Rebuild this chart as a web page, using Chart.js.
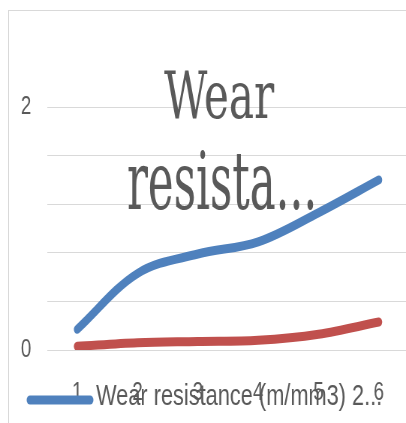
<!DOCTYPE html>
<html>
<head>
<meta charset="utf-8">
<script src="https://cdn.jsdelivr.net/npm/chart.js@4.4.1/dist/chart.umd.min.js"></script>
<style>
  html, body { margin: 0; padding: 0; background: #fff; overflow: hidden; width: 406px; height: 423px; }
  #frame { position: absolute; left: 8px; top: 10px; width: 470px; height: 470px; border: 1px solid #d9d9d9; }
  #chart { display: block; }
</style>
</head>
<body>
<div id="frame"><canvas id="chart" width="541" height="419" style="width:406px;height:419px"></canvas></div>
<script>
// Categories along the x axis
const categories = ['1', '2', '3', '4', '5', '6'];
// Wear resistance series (m/mm3)
const wearResistanceA = [0.17, 0.63, 0.79, 0.89, 1.13, 1.40];
const wearResistanceB = [0.03, 0.06, 0.07, 0.08, 0.13, 0.23];
// Series names
const seriesLabels = ['Wear resistance (m/mm3) 2...', 'Series 2'];
// Only these y values carry a label; the other grid lines stay unlabeled
const yTickLabels = [0, 2];
// Two-line (truncated) chart title
const titleLines = ['Wear', 'resista...'];

const TEXT_GRAY = '#595959';

// Title overlaid on the plot, each line with its own size and horizontal squeeze
const titleLayout = [
  { size: 66, x: 280, y: 107, sx: 0.85 },
  { size: 80, x: 284, y: 198, sx: 0.725 }
];
const overlayTitle = {
  id: 'overlayTitle',
  beforeDatasetsDraw(chart) {
    const ctx = chart.ctx;
    titleLines.forEach((line, i) => {
      const l = titleLayout[i];
      ctx.save();
      ctx.translate(l.x, l.y);
      ctx.scale(l.sx, 1);
      ctx.font = l.size + 'px "DejaVu Serif"';
      ctx.fillStyle = TEXT_GRAY;
      ctx.textAlign = 'center';
      ctx.textBaseline = 'alphabetic';
      ctx.fillText(line, 0, 0);
      ctx.restore();
    });
  }
};

// Legend entry for the first series, sitting over the category labels
const overlayLegend = {
  id: 'overlayLegend',
  afterDraw(chart) {
    const ctx = chart.ctx;
    const ds = chart.data.datasets[0];
    ctx.save();
    ctx.strokeStyle = ds.borderColor;
    ctx.lineWidth = 9;
    ctx.lineCap = 'round';
    ctx.beginPath();
    ctx.moveTo(28, 389);
    ctx.lineTo(108, 389);
    ctx.stroke();
    ctx.font = '29px "Liberation Sans"';
    ctx.fillStyle = TEXT_GRAY;
    ctx.textAlign = 'left';
    ctx.textBaseline = 'alphabetic';
    ctx.fillText(ds.label, 116, 394);
    ctx.restore();
  }
};

const lineStyle = {
  borderWidth: 9,
  pointRadius: 0,
  tension: 0.35,
  borderCapStyle: 'round',
  borderJoinStyle: 'round',
  fill: false
};

new Chart(document.getElementById('chart'), {
  type: 'line',
  data: {
    labels: categories,
    datasets: [
      Object.assign({ label: seriesLabels[0], data: wearResistanceA, borderColor: '#4F81BD', backgroundColor: '#4F81BD' }, lineStyle),
      Object.assign({ label: seriesLabels[1], data: wearResistanceB, borderColor: '#C0504D', backgroundColor: '#C0504D' }, lineStyle)
    ]
  },
  options: {
    responsive: false,
    devicePixelRatio: 1,
    animation: false,
    events: [],
    layout: { padding: { top: 96, right: 8, bottom: 0, left: 0 } },
    plugins: {
      legend: { display: false },
      title: { display: false },
      tooltip: { enabled: false }
    },
    scales: {
      x: {
        offset: true,
        grid: { display: false },
        border: { display: false },
        ticks: {
          color: TEXT_GRAY,
          font: { family: 'Liberation Sans', size: 25 },
          padding: 20,
          autoSkip: false,
          maxRotation: 0
        },
        afterFit(scale) { scale.height = 80; }
      },
      y: {
        min: 0,
        max: 2,
        grid: { color: '#d9d9d9', lineWidth: 1, drawTicks: false },
        border: { display: false },
        ticks: {
          stepSize: 0.4,
          color: TEXT_GRAY,
          font: { family: 'Liberation Sans', size: 25 },
          padding: 21,
          callback: (v) => yTickLabels.some(t => Math.abs(t - v) < 1e-6) ? String(Math.round(v)) : ''
        },
        afterFit(scale) { scale.width = 50.7; }
      }
    }
  },
  plugins: [overlayTitle, overlayLegend]
});
</script>
</body>
</html>
